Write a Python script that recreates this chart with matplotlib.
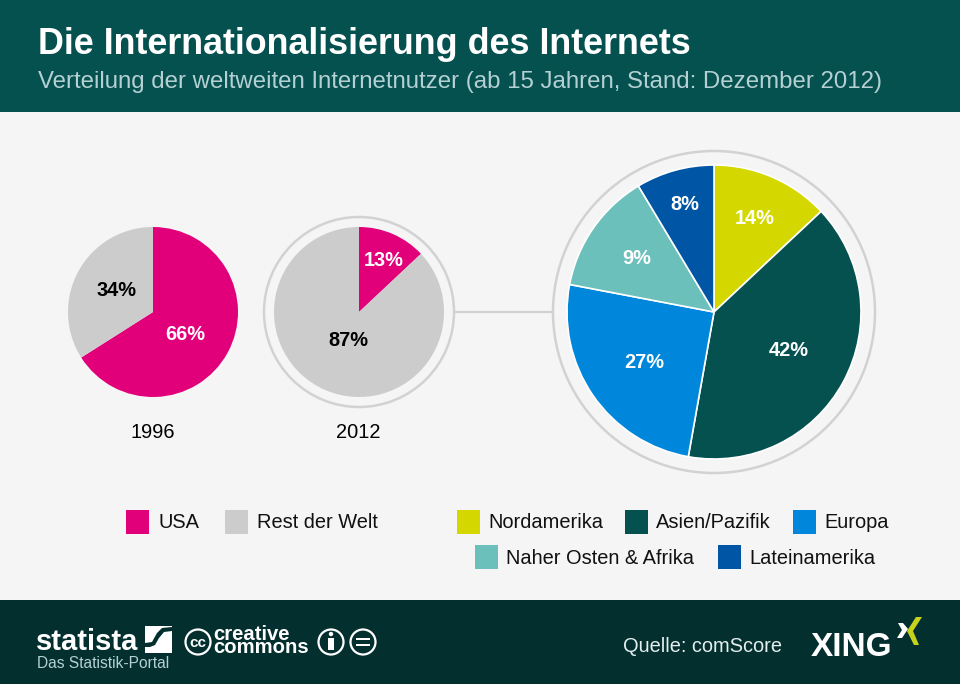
import matplotlib
matplotlib.use("Agg")
import matplotlib.pyplot as plt
from matplotlib.patches import Rectangle, Circle, Polygon

plt.rcParams['font.family'] = ['Liberation Sans', 'DejaVu Sans']

# Data
usa_labels = ["USA", "Rest der Welt"]
usa_1996 = [66, 34]
usa_2012 = [13, 87]
usa_colors = ["#e2007a", "#cccccc"]

regions = ["Nordamerika", "Asien/Pazifik", "Europa", "Naher Osten & Afrika", "Lateinamerika"]
# wedge sizes as drawn in the picture (the printed labels do not quite agree)
region_shares = [13.0, 39.8, 25.2, 13.4, 8.6]
region_labels = ["14%", "42%", "27%", "9%", "8%"]
region_colors = ["#d4d800", "#04514f", "#0087dc", "#6cc0bc", "#0055a4"]

dark = "#03302f"
W, H = 960, 684


def Y(y):
    # picture pixels count from the top, the axes from the bottom
    return H - y


fig = plt.figure(figsize=(9.6, 6.84), dpi=100, facecolor="#f5f5f6")
ax = fig.add_axes([0, 0, 1, 1])

# Bands
ax.add_patch(Rectangle((0, Y(112)), W, 112, fc="#04514f", ec="none", zorder=0))
ax.add_patch(Rectangle((0, 0), W, 84, fc=dark, ec="none", zorder=0))

ax.text(38, Y(44), "Die Internationalisierung des Internets", fontsize=25.85, fontweight="bold",
        color="white", va="center", ha="left")
ax.text(38, Y(82), "Verteilung der weltweiten Internetnutzer (ab 15 Jahren, Stand: Dezember 2012)",
        fontsize=17.25, color="#b5d0d3", va="center", ha="left")

# Rings and connector
ax.plot([454, 553], [Y(312), Y(312)], color="#d2d2d2", lw=1.6, zorder=1)
ax.add_patch(Circle((359, Y(312)), 95, fc="#f5f5f6", ec="#d2d2d2", lw=1.8, zorder=1))
ax.add_patch(Circle((714, Y(312)), 161, fc="#f5f5f6", ec="#d2d2d2", lw=1.8, zorder=1))

# Pies
wedge = {"edgecolor": "none"}
ax.pie(usa_1996, colors=usa_colors, center=(153, Y(312)), radius=85, startangle=90,
       counterclock=False, frame=True, wedgeprops=wedge)
ax.pie(usa_2012, colors=usa_colors, center=(359, Y(312)), radius=85, startangle=90,
       counterclock=False, frame=True, wedgeprops=wedge)
ax.pie(region_shares, colors=region_colors, center=(714, Y(312)), radius=147, startangle=90,
       counterclock=False, frame=True, wedgeprops={"edgecolor": "white", "linewidth": 1.2})

ax.set_xlim(0, W)
ax.set_ylim(0, H)
ax.set_aspect("equal")
ax.axis("off")

# Slice labels
pct = dict(fontsize=14.4, fontweight="bold", ha="center", va="center", zorder=5)
ax.text(185, Y(335), f"{usa_1996[0]}%", color="white", **pct)
ax.text(117, Y(291), f"{usa_1996[1]}%", color="black", **pct)
ax.text(384, Y(260), f"{usa_2012[0]}%", color="white", **pct)
ax.text(348, Y(340), f"{usa_2012[1]}%", color="black", **pct)
region_pos = [(755, 218), (789, 351), (644, 362), (637, 259), (685, 205)]
for lab, (px, py) in zip(region_labels, region_pos):
    ax.text(px, Y(py), lab, color="white", **pct)

ax.text(153, Y(433), "1996", fontsize=14.4, ha="center", va="center")
ax.text(358, Y(433), "2012", fontsize=14.4, ha="center", va="center")

# Legends
leg = dict(fontsize=14.4, ha="left", va="center", color="#111111")
for name, col, x0, y0 in zip(usa_labels, usa_colors, [126, 225], [522, 522]):
    ax.add_patch(Rectangle((x0, Y(y0 + 12)), 23, 24, fc=col, ec="none"))
    ax.text(x0 + 32, Y(y0 + 1), name, **leg)
for name, col, x0, y0 in zip(regions, region_colors, [457, 625, 793, 475, 718], [522, 522, 522, 557, 557]):
    ax.add_patch(Rectangle((x0, Y(y0 + 12)), 23, 24, fc=col, ec="none"))
    ax.text(x0 + 31, Y(y0 + 1), name, **leg)

# Footer: statista
ax.text(36, Y(642), "statista", fontsize=21, fontweight="bold", color="white", ha="left", va="center")
ax.add_patch(Rectangle((145, Y(653)), 27, 27, fc="white", ec="none"))
ax.add_patch(Polygon([(145, Y(643)), (152, Y(642)), (157, Y(633)), (162, Y(628)), (172, Y(627)), (172, Y(631)),
                      (164, Y(632)), (159, Y(638)), (155, Y(645)), (150, Y(647)), (145, Y(647))],
                     fc=dark, ec="none"))
ax.text(37, Y(664), "Das Statistik-Portal", fontsize=11.2, color="#b5d0d3", ha="left", va="center")

# Footer: creative commons
ax.add_patch(Circle((198, Y(642)), 12.5, fc="none", ec="white", lw=1.6))
ax.text(198, Y(643), "cc", fontsize=11, fontweight="bold", color="white", ha="center", va="center")
ax.text(213, Y(641), "creative\ncommons", fontsize=14.6, fontweight="bold", color="white", ha="left",
        va="center", linespacing=0.55)
ax.add_patch(Circle((331, Y(642)), 12.5, fc="none", ec="white", lw=1.6))
ax.add_patch(Circle((331, Y(634)), 2.2, fc="white", ec="none"))
ax.add_patch(Rectangle((328, Y(650)), 6, 12, fc="white", ec="none"))
ax.add_patch(Circle((363, Y(642)), 12.5, fc="none", ec="white", lw=1.6))
ax.add_patch(Rectangle((356, Y(640)), 14, 2.2, fc="white", ec="none"))
ax.add_patch(Rectangle((356, Y(646)), 14, 2.2, fc="white", ec="none"))

# Footer: source and XING
ax.text(623, Y(647), "Quelle: comScore", fontsize=14.4, color="#e3eeee", ha="left", va="center")
ax.text(811, Y(647), "XING", fontsize=24, fontweight="bold", color="white", ha="left", va="center")
ax.add_patch(Polygon([(898, Y(623)), (903, Y(623)), (908, Y(629)), (902, Y(638)), (897, Y(638)), (902, Y(630))],
                     fc="white", ec="none"))
ax.add_patch(Polygon([(916, Y(617)), (922, Y(617)), (913, Y(631)), (919, Y(645)), (914, Y(645)), (907, Y(631))],
                     fc="#c6d21c", ec="none"))

fig.savefig("out.png", dpi=100, facecolor=fig.get_facecolor())
